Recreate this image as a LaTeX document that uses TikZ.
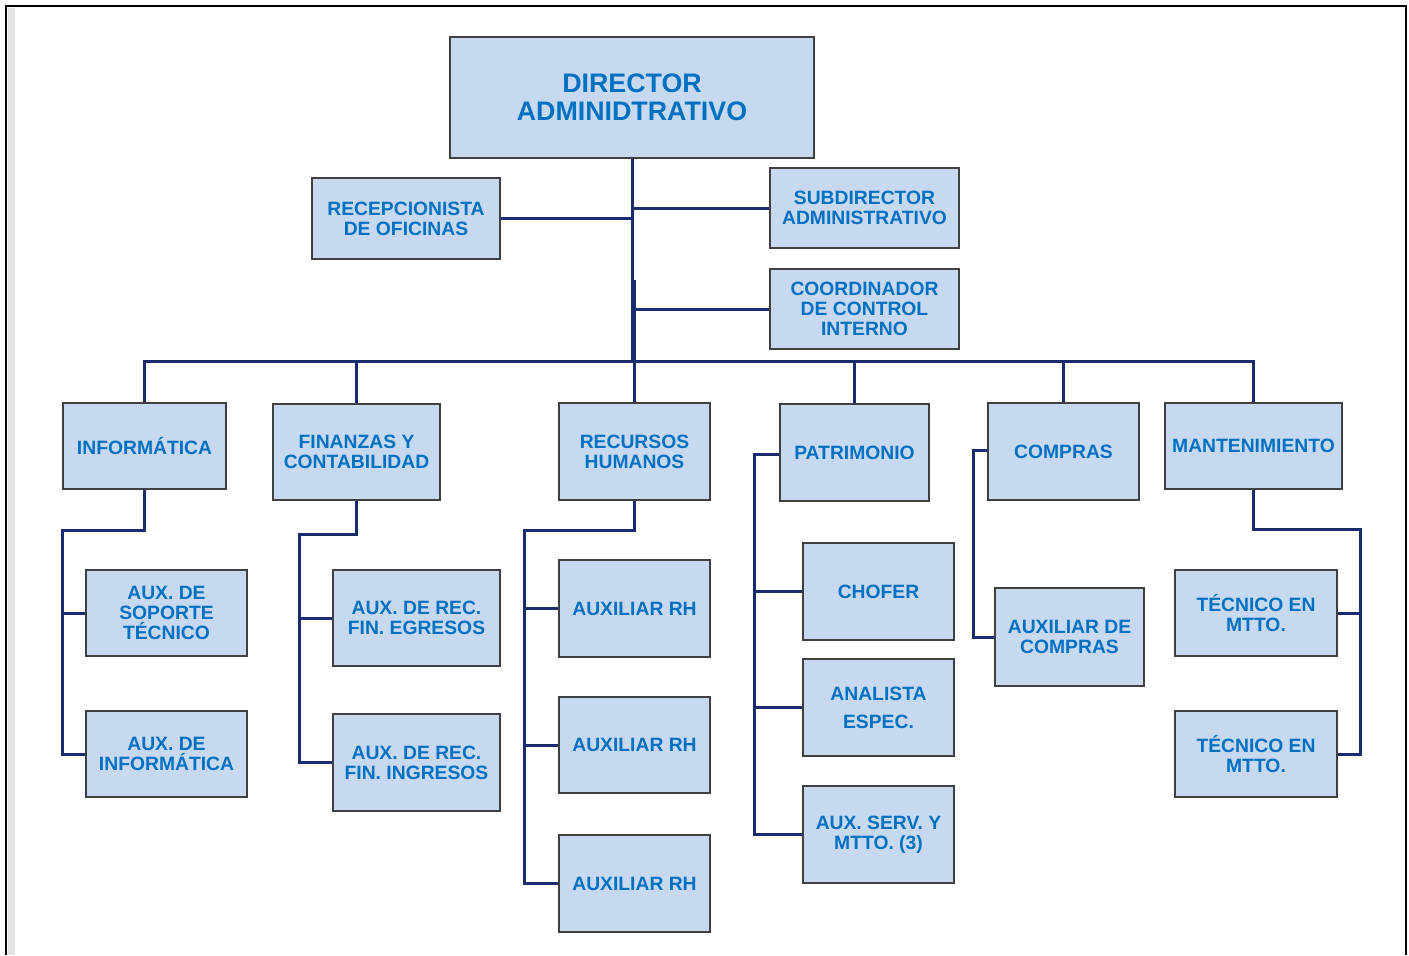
\documentclass[tikz,border=0pt]{standalone}
\usepackage{fontspec}
\setmainfont{Liberation Sans}
\definecolor{boxfill}{RGB}{198,217,241}
\definecolor{boxdraw}{RGB}{64,64,64}
\definecolor{txtblue}{RGB}{0,112,192}
\definecolor{navy}{RGB}{25,45,110}
\definecolor{stripgray}{RGB}{228,228,228}
\tikzset{
  orgbox/.style={draw=boxdraw, line width=1pt, fill=boxfill, text=txtblue,
    font=\fontsize{9.65}{10}\selectfont\bfseries, align=center, inner sep=0pt},
  bigbox/.style={orgbox, font=\fontsize{13.4}{14}\selectfont\bfseries},
  conn/.style={draw=navy, line width=1.5pt, line join=miter}
}
\begin{document}
\begin{tikzpicture}[x=0.5pt,y=-0.5pt]
\useasboundingbox (0,0) rectangle (1409,955);
% frame
\fill[stripgray] (8,8) rectangle (15,955);
\draw[black, line width=1.2pt] (6,955) -- (6,6) -- (1406,6) -- (1406,955);

% top level
\node[bigbox, minimum width=182pt, minimum height=60.5pt] (dir) at (632,97.5) {DIRECTOR\\ADMINIDTRATIVO};
\node[orgbox, minimum width=94pt, minimum height=40.5pt] (rec) at (406,218.5) {RECEPCIONISTA\\DE OFICINAS};
\node[orgbox, minimum width=94.5pt, minimum height=40pt] (sub) at (864.5,208) {SUBDIRECTOR\\ADMINISTRATIVO};
\node[orgbox, minimum width=94.5pt, minimum height=40pt] (coo) at (864.5,309) {COORDINADOR\\DE CONTROL\\INTERNO};

% second level
\node[orgbox, minimum width=81.5pt, minimum height=43pt] (inf) at (144.5,446) {INFORMÁTICA};
\node[orgbox, minimum width=83.5pt, minimum height=48pt] (fin) at (356.5,452) {FINANZAS Y\\CONTABILIDAD};
\node[orgbox, minimum width=75.5pt, minimum height=48.5pt] (rh) at (634.5,451.5) {RECURSOS\\HUMANOS};
\node[orgbox, minimum width=74.5pt, minimum height=48.5pt] (pat) at (854.5,452.5) {PATRIMONIO};
\node[orgbox, minimum width=75.5pt, minimum height=48.5pt] (com) at (1063.5,451.5) {COMPRAS};
\node[orgbox, minimum width=88.5pt, minimum height=43pt] (man) at (1253.5,446) {MANTENIMIENTO};

% third level
\node[orgbox, minimum width=80.5pt, minimum height=43pt] (sop) at (166.5,613) {AUX. DE\\SOPORTE\\TÉCNICO};
\node[orgbox, minimum width=80.5pt, minimum height=43pt] (axi) at (166.5,754) {AUX. DE\\INFORMÁTICA};
\node[orgbox, minimum width=83.5pt, minimum height=48pt] (egr) at (416.5,618) {AUX. DE REC.\\FIN. EGRESOS};
\node[orgbox, minimum width=83.5pt, minimum height=48.5pt] (ing) at (416.5,762.5) {AUX. DE REC.\\FIN. INGRESOS};
\node[orgbox, minimum width=75.5pt, minimum height=48.5pt] (rha) at (634.5,608.5) {AUXILIAR RH};
\node[orgbox, minimum width=75.5pt, minimum height=48pt] (rhb) at (634.5,745) {AUXILIAR RH};
\node[orgbox, minimum width=75.5pt, minimum height=48.5pt] (rhc) at (634.5,883.5) {AUXILIAR RH};
\node[orgbox, minimum width=75.5pt, minimum height=48.5pt] (cho) at (878.5,591.5) {CHOFER};
\node[orgbox, minimum width=75.5pt, minimum height=48.5pt] (ana) at (878.5,707.5) {ANALISTA\\[4pt]ESPEC.};
\node[orgbox, minimum width=75.5pt, minimum height=48.5pt] (asv) at (878.5,834.5) {AUX. SERV. Y\\MTTO. (3)};
\node[orgbox, minimum width=74.5pt, minimum height=49pt] (acp) at (1069.5,637) {AUXILIAR DE\\COMPRAS};
\node[orgbox, minimum width=81pt, minimum height=43pt] (tca) at (1256,613) {TÉCNICO EN\\MTTO.};
\node[orgbox, minimum width=81pt, minimum height=43pt] (tcb) at (1256,754) {TÉCNICO EN\\MTTO.};

% trunk and bus
\coordinate (bus) at (632,361);
\draw[conn] (dir.south) -- (bus);
\draw[conn] (634,280) -- (634,361);
\draw[conn] (rec.east) -- (rec.east -| dir.south);
\draw[conn] (sub.west) -- (sub.west -| dir.south);
\draw[conn] (coo.west) -- (coo.west -| dir.south);
\draw[conn] (inf.north) |- (bus) -| (man.north);
\draw[conn] (fin.north) -- (fin.north |- bus);
\draw[conn] (rh.north) -- (rh.north |- bus);
\draw[conn] (pat.north) -- (pat.north |- bus);
\draw[conn] (com.north) -- (com.north |- bus);

% informatica
\coordinate (infr) at (62,530);
\draw[conn] (inf.south) |- (infr) |- (axi.west);
\draw[conn] (infr |- sop.west) -- (sop.west);
% finanzas
\coordinate (finr) at (299,534);
\draw[conn] (fin.south) |- (finr) |- (ing.west);
\draw[conn] (finr |- egr.west) -- (egr.west);
% rh
\coordinate (rhr) at (524,530);
\draw[conn] (rh.south) |- (rhr) |- (rhc.west);
\draw[conn] (rhr |- rha.west) -- (rha.west);
\draw[conn] (rhr |- rhb.west) -- (rhb.west);
% patrimonio
\coordinate (patr) at (754,454);
\draw[conn] (pat.west |- patr) -- (patr) |- (asv.west);
\draw[conn] (patr |- cho.west) -- (cho.west);
\draw[conn] (patr |- ana.west) -- (ana.west);
% compras
\coordinate (comr) at (973,450);
\draw[conn] (com.west |- comr) -- (comr) |- (acp.west);
% mantenimiento
\coordinate (manr) at (1360,529);
\draw[conn] (man.south) |- (manr) |- (tcb.east);
\draw[conn] (manr |- tca.east) -- (tca.east);
\end{tikzpicture}
\end{document}
